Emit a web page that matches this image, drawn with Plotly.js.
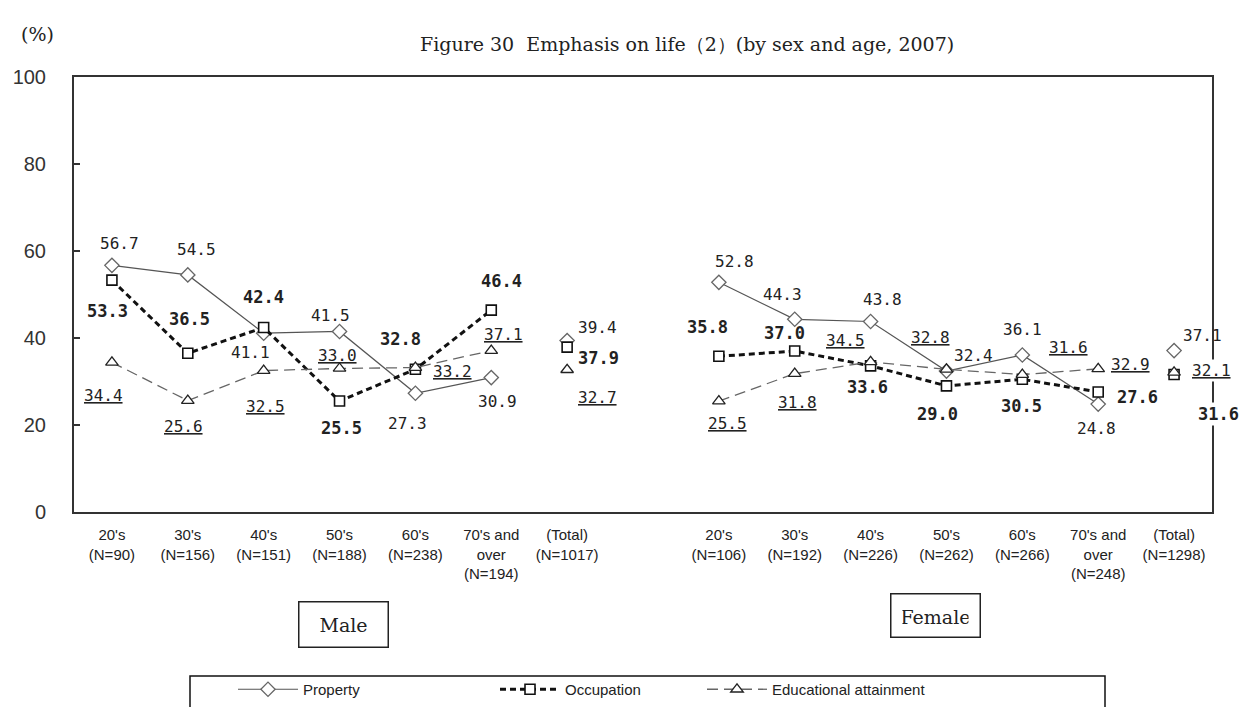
<!DOCTYPE html>
<html><head><meta charset="utf-8">
<script src="https://cdn.plot.ly/plotly-3.0.1.min.js"></script>
<style>body{margin:0;background:#fff}</style>
</head><body><div id="chart" style="width:1243px;height:707px"></div>
<script>
// ---- data ----
const maleCats = ["20's<br>(N=90)", "30's<br>(N=156)", "40's<br>(N=151)", "50's<br>(N=188)", "60's<br>(N=238)", "70's and<br>over<br>(N=194)"];
const maleTotalCat = "(Total)<br>(N=1017)";
const gapCat = " ";
const femaleCats = ["20's<br>(N=106)", "30's<br>(N=192)", "40's<br>(N=226)", "50's<br>(N=262)", "60's<br>(N=266)", "70's and<br>over<br>(N=248)"];
const femaleTotalCat = "(Total)<br>(N=1298)";

const propertyMale = [56.7, 54.5, 41.1, 41.5, 27.3, 30.9];
const propertyMaleTotal = 39.4;
const propertyFemale = [52.8, 44.3, 43.8, 32.4, 36.1, 24.8];
const propertyFemaleTotal = 37.1;

const occupationMale = [53.3, 36.5, 42.4, 25.5, 32.8, 46.4];
const occupationMaleTotal = 37.9;
const occupationFemale = [35.8, 37.0, 33.6, 29.0, 30.5, 27.6];
const occupationFemaleTotal = 31.6;

const eduMale = [34.4, 25.6, 32.5, 33.0, 33.2, 37.1];
const eduMaleTotal = 32.7;
const eduFemale = [25.5, 31.8, 34.5, 32.8, 31.6, 32.9];
const eduFemaleTotal = 32.1;

const seriesNames = ["Property", "Occupation", "Educational attainment"];
const yTicks = [0, 20, 40, 60, 80, 100];

// ---- label offsets (pixels: dx, dy down) ----
const propOff = [[8,-22],[9,-25],[-13,19],[-9,-16],[-8,30],[6,24],[30,-13],
                 [16,-21],[-12,-25],[12,-22],[27,-16],[0,-25],[-2,24],[28,-15]];
const occOff  = [[-4,31],[2,-34],[0,-31],[2,27],[-15,-30],[10,-29],[31,11],
                 [-11,-29],[-10,-18],[-3,21],[-9,28],[-1,27],[39,5],[44,39]];
const eduOff  = [[-8,33],[-4,26],[2,36],[-2,-13],[37,4],[12,-16],[30,28],
                 [9,22],[3,29],[-25,-21],[-16,-32],[46,-27],[32,-4],[37,-2]];

const allCats = maleCats.concat([maleTotalCat, gapCat], femaleCats, [femaleTotalCat]);

const styles = [
  {line:{color:'#555', width:1.2, dash:'solid'}, marker:{symbol:'diamond', size:11, color:'#fff', line:{color:'#666', width:1.3}}},
  {line:{color:'#111', width:3, dash:'6px,4px'}, marker:{symbol:'square', size:10, color:'#fff', line:{color:'#111', width:1.6}}},
  {line:{color:'#666', width:1.3, dash:'11px,6px'}, marker:{symbol:'triangle-up', size:11, color:'#fff', line:{color:'#222', width:1.3}}}
];
const legendIds = ['legend', 'legend2', 'legend3'];

const groups = [
  [propertyMale, propertyMaleTotal, propertyFemale, propertyFemaleTotal],
  [occupationMale, occupationMaleTotal, occupationFemale, occupationFemaleTotal],
  [eduMale, eduMaleTotal, eduFemale, eduFemaleTotal]
];

const traces = [];
groups.forEach((g, i) => {
  const st = styles[i];
  traces.push({x: maleCats, y: g[0], type:'scatter', mode:'lines+markers', name: seriesNames[i],
    legend: legendIds[i], legendgroup: 's'+i, showlegend: true, line: st.line, marker: st.marker, cliponaxis:false});
  traces.push({x: femaleCats, y: g[2], type:'scatter', mode:'lines+markers', name: seriesNames[i],
    legend: legendIds[i], legendgroup: 's'+i, showlegend: false, line: st.line, marker: st.marker, cliponaxis:false});
  traces.push({x: [maleTotalCat, femaleTotalCat], y: [g[1], g[3]], type:'scatter', mode:'markers', name: seriesNames[i],
    legend: legendIds[i], legendgroup: 's'+i, showlegend: false, marker: st.marker, cliponaxis:false});
});

// ---- annotations ----
const annotations = [];
const offs = [propOff, occOff, eduOff];
const labelFont = {family:'DejaVu Sans Mono', size:16, color:'#222'};
groups.forEach((g, i) => {
  const xs = maleCats.concat([maleTotalCat], femaleCats, [femaleTotalCat]);
  const ys = g[0].concat([g[1]], g[2], [g[3]]);
  ys.forEach((v, k) => {
    let t = v.toFixed(1);
    if (i === 1) t = '<b>' + t + '</b>';
    if (i === 2) t = '<u>' + t + '</u>';
    const a = {xref:'x', yref:'y', x: xs[k], y: v, text: t, showarrow:false,
      xanchor:'center', yanchor:'middle',
      xshift: offs[i][k][0], yshift: -offs[i][k][1],
      font: Object.assign({}, labelFont, i === 1 ? {size:17} : {})};
    if (k === 13 && i > 0) a.bgcolor = '#fff';
    annotations.push(a);
  });
});

const W = 1243, H = 707;
const L = 74, R = 1212, T = 77, B = 512;
const px = x => (x - L) / (R - L);
const py = y => (B - y) / (B - T);

annotations.push({xref:'paper', yref:'paper', x: px(37), y: py(34), xanchor:'center', yanchor:'middle', text:'(%)', showarrow:false,
  font:{family:'DejaVu Serif', size:19, color:'#222'}});
annotations.push({xref:'paper', yref:'paper', x: px(418), y: py(44), xanchor:'left', yanchor:'middle', text:'Figure 30  Emphasis on life（2）(by sex and age, 2007)', showarrow:false,
  font:{family:'DejaVu Serif', size:19, color:'#222'}});
annotations.push({xref:'paper', yref:'paper', x: px(343), y: py(624), xanchor:'center', yanchor:'middle', text:'Male', showarrow:false,
  font:{family:'DejaVu Serif', size:19, color:'#222'}, bordercolor:'#222', borderwidth:1.5, borderpad:11, width:66, height:22, valign:'top'});
annotations.push({xref:'paper', yref:'paper', x: px(935), y: py(615), xanchor:'center', yanchor:'middle', text:'Female', showarrow:false,
  font:{family:'DejaVu Serif', size:19, color:'#222'}, bordercolor:'#222', borderwidth:1.5, borderpad:11, width:66, height:20, valign:'top'});

const legendBase = {orientation:'h', xanchor:'left', y: py(673), yanchor:'top',
  borderwidth:0, bgcolor:'rgba(0,0,0,0)',
  font:{family:'Liberation Sans', size:15, color:'#222'}, itemwidth:60};

const layout = {
  width:W, height:H,
  margin:{l:L, r:W-R, t:T, b:H-B, autoexpand:false},
  paper_bgcolor:'#fff', plot_bgcolor:'#fff',
  showlegend:true,
  legend: Object.assign({}, legendBase, {x: px(233)}),
  legend2: Object.assign({}, legendBase, {x: px(495)}),
  legend3: Object.assign({}, legendBase, {x: px(702)}),
  shapes:[{type:'rect', xref:'paper', yref:'paper', x0: px(190), x1: px(1105), y0: py(676), y1: py(720),
    line:{color:'#111', width:1.5}, fillcolor:'rgba(0,0,0,0)', layer:'below'}],
  xaxis:{type:'category', categoryorder:'array', categoryarray: allCats, range:[-0.5, allCats.length-0.5],
    showline:true, linecolor:'#333', linewidth:2, mirror:true, ticks:'', showgrid:false, zeroline:false,
    tickfont:{family:'Liberation Sans', size:15, color:'#222'}, tickangle:0, ticklabelstandoff:8},
  yaxis:{range:[0,100], tickvals:yTicks, ticks:'inside', ticklen:6, tickwidth:1.5, tickcolor:'#333',
    showline:true, linecolor:'#333', linewidth:2, mirror:true, showgrid:false, zeroline:false,
    tickfont:{family:'Liberation Sans', size:20, color:'#333'}, ticklabelstandoff:22},
  annotations: annotations
};

Plotly.newPlot('chart', traces, layout, {displayModeBar:false, staticPlot:true});
</script>
</body></html>
